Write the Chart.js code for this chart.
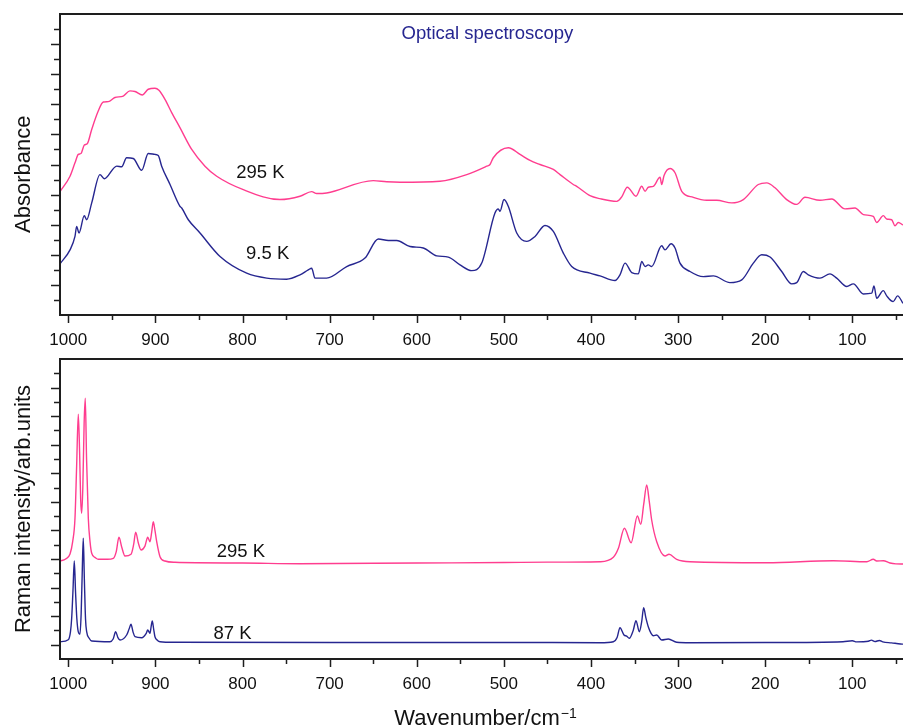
<!DOCTYPE html>
<html>
<head>
<meta charset="utf-8">
<script src="https://cdn.jsdelivr.net/npm/chart.js@4.4.1/dist/chart.umd.min.js"></script>
<style>
  html, body { margin:0; padding:0; background:#fff; }
  #wrap { position:relative; width:903px; height:727px; }
  .box { position:absolute; left:0; width:903px; }
</style>
</head>
<body>
<div id="wrap">
  <div class="box" style="top:0;height:350px"><canvas id="top"></canvas></div>
  <div class="box" style="top:350px;height:377px"><canvas id="bot"></canvas></div>
</div>
<script>
// ---------- DATA ----------
const xTickLabels = [1000, 900, 800, 700, 600, 500, 400, 300, 200, 100];
const xMinorTicks = [950, 850, 750, 650, 550, 450, 350, 250, 150, 50];

// Optical spectroscopy (absorbance, arbitrary units with offset)
const absWave295 = [1009.5,998,992.3,988.5,985.4,981.6,978.2,973.1,965.6,959.8,954.1,946.4,936.9,929.2,923.4,915,908.2,900.5,895.9,889,881.3,871.8,858.3,843.1,829.6,799.1,757,734,720.6,714.8,703.4,649.9,634.5,619.2,573.3,542.6,519.7,515.9,512.1,494.9,481.4,469.9,458.5,443.2,435.5,420.3,416.4,401.1,389.6,370.4,364.7,358.3,348.3,341.7,337.9,334.2,328.4,320.7,318.8,316.1,309.2,303.5,295.8,282.5,267.1,255.6,238.4,225.1,207.9,198.2,188.7,175.3,163.8,154.3,137.1,123.6,108.3,96.9,87.3,75.9,72,64.4,60.5,54.8,51,47.2,41.8];
const absVal295  = [8.2,9.22,10.11,10.67,10.73,11.29,11.38,12.33,13.55,14.15,14.18,14.45,14.55,14.89,14.85,14.62,15.0,15.07,14.93,14.33,13.45,12.45,11.0,9.89,9.22,8.33,7.67,7.89,8.2,8.07,8.11,8.93,8.85,8.82,8.89,9.33,9.89,10.0,10.45,11.11,10.67,10.27,10.0,9.67,9.33,8.67,8.55,7.93,7.73,7.55,7.85,8.49,7.89,8.55,8.22,8.49,8.55,9.15,8.67,9.27,9.73,9.45,8.22,7.82,7.62,7.62,7.45,7.67,8.67,8.78,8.45,7.67,7.35,7.82,7.62,7.71,7.05,7.11,6.67,6.55,6.15,6.6,6.38,6.33,5.93,6.15,5.98];

const absWave9 = [1009.5,998,992.3,990.4,987.7,981.6,978.9,973.1,963.6,958.7,944.4,938.7,933,925.4,915.7,908.2,900.5,896.7,892.8,883.2,871.8,869.8,862.2,848.8,825.8,795.2,772.2,749.3,734,724.5,720.6,716.8,703.4,680.4,659.4,644.1,632.6,623,607.7,592.5,577.1,563.8,550.3,536.9,525.4,510.2,506.4,504.4,499.8,494.9,485.2,473.8,464.2,452.8,443.2,431.7,422.1,401.1,389.6,372.4,366.7,360.9,353.2,345.6,341.7,337.9,334.2,330.3,318.8,315,308.1,303.5,297.8,286.3,271,259.5,240.4,226.9,213.6,204,194.4,181,169.5,163.8,156.2,150.5,137.1,125.6,117.9,106.4,98.8,87.3,77.7,75.1,72,64.4,60.5,53.1,48,41.8];
const absVal9  = [3.4,4.33,5.22,5.89,5.45,6.6,6.33,7.45,9.33,9.05,9.89,9.85,10.45,10.4,9.62,10.73,10.67,10.6,9.89,8.67,7.22,7.11,6.33,5.45,3.89,2.78,2.45,2.38,2.67,3.0,3.11,2.45,2.45,3.22,3.78,5.05,4.95,4.95,4.55,4.45,3.93,3.85,3.33,2.95,3.45,6.78,7.05,6.89,7.67,7.22,5.45,4.89,5.22,5.95,5.55,4.11,3.22,2.78,2.6,2.29,2.67,3.45,2.82,2.73,3.55,3.22,3.33,3.22,4.6,4.33,4.73,4.45,3.45,2.89,2.55,2.6,2.15,2.33,3.45,4.0,3.85,2.89,2.07,2.15,2.89,2.67,2.45,2.73,2.45,1.89,2.07,1.4,1.45,1.93,1.11,1.62,1.27,0.89,1.27,0.78];

// Raman intensity (arb. units with offset)
const ramWave295 = [1009.5,1003,998,995,992.3,990.4,988.5,987,985.8,984.6,983.3,981.8,980.5,979,977,975,973.1,969,965.6,955,948.3,945,941.8,938.5,934.9,928,925,922.6,919.5,916.5,912,908.8,906.2,904.2,902.4,900.5,898.5,894.7,889,877.5,800,734,600,500,450,389.6,374.3,368.5,361.6,353.9,346.7,342.8,339.5,336,333,330.3,324.5,315,310.4,301.6,286.3,198.2,121.8,83.3,75.9,72,64.4,56.7,50,41.8];
const ramVal295  = [6.86,7.0,7.35,8.2,9.85,13.5,17.13,14.5,11.2,10.2,12.0,16.5,18.25,14.0,9.85,8.2,7.4,7.1,6.98,6.98,7.05,7.5,8.52,7.8,7.21,7.33,8.0,8.87,8.1,7.63,7.9,8.52,8.21,8.9,9.61,9.0,8.21,7.16,6.86,6.77,6.72,6.67,6.72,6.75,6.78,6.81,7.12,7.75,9.15,8.14,10.01,9.43,10.8,12.18,11.0,9.73,8.21,7.21,7.33,6.98,6.81,6.74,6.88,6.81,6.98,6.86,6.88,6.72,6.66,6.65];

const ramWave87 = [1009.5,1000,997.5,996.1,994.6,993.1,991.6,990.2,988.5,986.6,985.2,984,982.8,981.5,980.2,978.9,976,973.1,952.1,948.5,945.6,943,940.6,933,930.2,928,925.7,923.4,915.7,910.5,908.8,906.2,904.8,903.6,902,900.5,897.5,894.7,877.5,700,500,389.6,374.3,370,366.7,362.1,359,356,351.5,348.3,344.5,341.8,339.5,337,334.2,331,328.4,324.5,318.8,311.2,301.6,286.3,200,110.7,100,95,81.6,78,74,69,65,55,44.6,41.8];
const ramVal87  = [1.21,1.35,1.9,2.85,4.8,6.86,4.6,2.85,1.9,1.73,3.2,6.0,8.45,5.5,2.8,1.91,1.45,1.26,1.21,1.4,1.91,1.5,1.33,1.68,2.1,2.43,1.9,1.56,1.49,1.8,2.03,1.8,2.3,2.66,2.1,1.56,1.3,1.21,1.17,1.15,1.16,1.14,1.21,1.5,2.19,1.68,1.6,1.45,2.0,2.68,1.91,2.6,3.59,2.9,2.26,1.8,1.63,1.68,1.33,1.4,1.17,1.14,1.15,1.21,1.28,1.2,1.24,1.32,1.22,1.3,1.2,1.13,1.05,1.04];

// ---------- STYLE ----------
const PINK = '#ff3d8f';
const NAVY = '#262690';
const AXIS = '#1e1e1e';
const FONT = '"Liberation Sans", Arial, Helvetica, sans-serif';

function pts(xs, ys) { return xs.map((x, i) => ({ x: x, y: ys[i] })); }

const framePlugin = {
  id: 'frame',
  afterDraw(chart, args, o) {
    const ctx = chart.ctx, a = chart.chartArea, x = chart.scales.x, y = chart.scales.y;
    ctx.save();
    ctx.strokeStyle = AXIS;
    ctx.lineWidth = 1.5;
    ctx.beginPath();
    for (const v of xTickLabels) { const p = Math.round(x.getPixelForValue(v)) + 0.5; ctx.moveTo(p, a.bottom); ctx.lineTo(p, a.bottom + 8); }
    for (const v of xMinorTicks) { const p = x.getPixelForValue(v); if (p < a.left || p > a.right) continue; const pp = Math.round(p) + 0.5; ctx.moveTo(pp, a.bottom); ctx.lineTo(pp, a.bottom + 5); }
    for (let i = y.min + 1; i < y.max; i++) {
      const p = Math.round(y.getPixelForValue(i)) + 0.5;
      const len = (i % 2 === o.majorParity) ? 9 : 6;
      ctx.moveTo(a.left, p); ctx.lineTo(a.left - len, p);
    }
    ctx.stroke();
    ctx.lineWidth = 2;
    ctx.beginPath();
    ctx.moveTo(a.left, a.bottom); ctx.lineTo(a.left, a.top); ctx.lineTo(a.right, a.top);
    ctx.moveTo(a.left - 1, a.bottom); ctx.lineTo(a.right, a.bottom);
    ctx.stroke();
    // texts
    for (const t of o.texts) {
      ctx.font = t.size + 'px ' + FONT;
      ctx.fillStyle = t.color;
      ctx.textAlign = 'center';
      ctx.textBaseline = 'middle';
      ctx.fillText(t.text, x.getPixelForValue(t.x), y.getPixelForValue(t.y));
    }
    // y title
    ctx.font = '22px ' + FONT;
    ctx.fillStyle = '#111';
    ctx.translate(29.5, y.getPixelForValue(o.yTitleAt));
    ctx.rotate(-Math.PI / 2);
    ctx.textAlign = 'center';
    ctx.textBaseline = 'alphabetic';
    ctx.fillText(o.yTitle, 0, 0);
    ctx.restore();
    if (o.xTitle) {
      ctx.save();
      ctx.fillStyle = '#111';
      const main = 'Wavenumber/cm';
      ctx.font = '22px ' + FONT; const w1 = ctx.measureText(main).width;
      ctx.font = '14px ' + FONT; const w2 = ctx.measureText('\u22121').width;
      const cx = (a.left + a.right) / 2 + 4;
      const x0 = cx - (w1 + w2 + 1) / 2;
      const base = a.bottom + 66;
      ctx.textAlign = 'left'; ctx.textBaseline = 'alphabetic';
      ctx.font = '22px ' + FONT; ctx.fillText(main, x0, base);
      ctx.font = '14px ' + FONT; ctx.fillText('\u22121', x0 + w1 + 1, base - 7);
      ctx.restore();
    }
  }
};

function makeChart(id, datasets, yMax, padTop, xHeight, frameOpts) {
  return new Chart(document.getElementById(id), {
    type: 'line',
    data: { datasets: datasets },
    options: {
      responsive: true,
      maintainAspectRatio: false,
      animation: false,
      events: [],
      layout: { padding: { top: padTop, left: 60, right: 0, bottom: 0 } },
      plugins: { legend: { display: false }, tooltip: { enabled: false }, frame: frameOpts },
      elements: { point: { radius: 0 }, line: { borderWidth: 1.4, cubicInterpolationMode: 'monotone' } },
      scales: {
        x: {
          type: 'linear', reverse: true, min: 41.8, max: 1009.5,
          grid: { display: false }, border: { display: false },
          afterBuildTicks: (s) => { s.ticks = xTickLabels.map(v => ({ value: v })); },
          afterFit: (s) => { s.height = xHeight; },
          ticks: { font: { family: FONT, size: 17 }, color: '#111', padding: 7, maxRotation: 0, autoSkip: false,
                   callback: (v) => String(v) }
        },
        y: { type: 'linear', display: false, min: 0, max: yMax }
      }
    },
    plugins: [framePlugin]
  });
}

makeChart('top', [
  { data: pts(absWave295, absVal295), borderColor: PINK },
  { data: pts(absWave9, absVal9), borderColor: NAVY }
], 20, 14, 35, {
  majorParity: 0, yTitle: 'Absorbance', yTitleAt: 9.35,
  texts: [
    { text: 'Optical spectroscopy', x: 518.8, y: 18.67, size: 18.5, color: NAVY },
    { text: '295 K', x: 779.4, y: 9.47, size: 18.5, color: '#111' },
    { text: '9.5 K', x: 771.1, y: 4.03, size: 18.5, color: '#111' }
  ]
});

makeChart('bot', [
  { data: pts(ramWave295, ramVal295), borderColor: PINK },
  { data: pts(ramWave87, ramVal87), borderColor: NAVY }
], 21, 9, 68, {
  majorParity: 1, yTitle: 'Raman intensity/arb.units', yTitleAt: 10.5, xTitle: true,
  texts: [
    { text: '295 K', x: 801.9, y: 7.51, size: 18.5, color: '#111' },
    { text: '87 K', x: 811.5, y: 1.77, size: 18.5, color: '#111' }
  ]
});
</script>
</body>
</html>
